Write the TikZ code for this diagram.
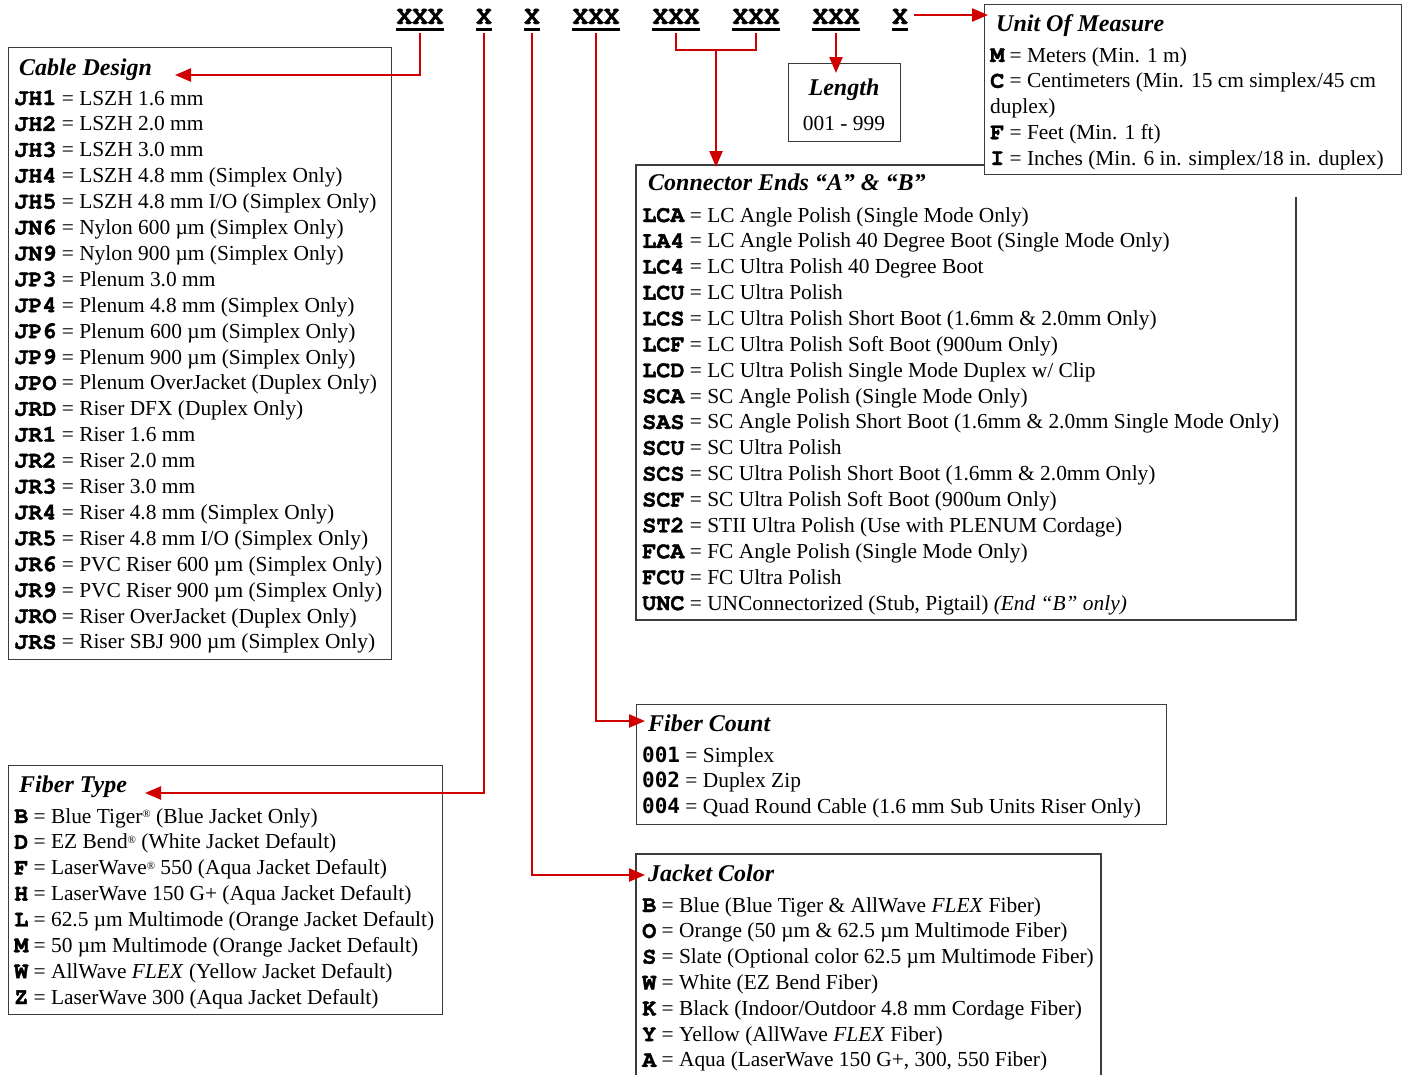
\documentclass[tikz,border=0pt]{standalone}
\usepackage{fontspec}
\setmainfont{Liberation Serif}
\newfontfamily\courb[Extension=.otf, BoldFont=texgyrecursor-bold, BoldFeatures={FakeBold=1.5}]{texgyrecursor-regular}
\newfontfamily\sansmono{DejaVu Sans Mono}
\usetikzlibrary{arrows.meta}
\definecolor{conred}{RGB}{208,0,0}
\definecolor{boxgray}{RGB}{60,60,60}
\newcommand\cd[1]{{\courb\bfseries\fontsize{23.5}{26}\selectfont #1}}
\newcommand\cdn[1]{{\sansmono\bfseries\fontsize{21}{26}\selectfont #1}}
\newcommand\rg{\raisebox{0.55ex}{\fontsize{11}{12}\selectfont ®}}
\tikzset{
  boxline/.style={draw=boxgray, line width=1.3pt},
  boxnode/.style={boxline, rectangle, inner sep=0pt, anchor=north west, fill=white},
  txt/.style={anchor=base west, inner sep=0pt, font=\fontsize{21.4}{26}\selectfont},
  head/.style={anchor=base west, inner sep=0pt, font=\fontsize{24}{28}\selectfont\bfseries\itshape},
  codeword/.style={anchor=base, inner sep=0pt, font=\courb\bfseries\fontsize{26}{30}\selectfont},
  conn/.style={draw=conred, line width=2.4pt},
  arr/.style={conn, -{Triangle[length=16pt,width=13pt]}},
  uline/.style={line width=3pt, black},
}
\begin{document}
\begin{tikzpicture}[x=1pt,y=1pt]
\useasboundingbox (0,0) rectangle (1408,-1074);

% ---------- code string ----------
\node[codeword] (c1) at (420,-24) {XXX};
\node[codeword] (c2) at (484,-24) {X};
\node[codeword] (c3) at (532,-24) {X};
\node[codeword] (c4) at (596,-24) {XXX};
\node[codeword] (c5) at (676,-24) {XXX};
\node[codeword] (c6) at (756,-24) {XXX};
\node[codeword] (c7) at (836,-24) {XXX};
\node[codeword] (c8) at (900,-24) {X};
\foreach \n in {c1,c2,c3,c4,c5,c6,c7,c8}
  \draw[uline] ([yshift=-5pt]\n.base west) -- ([yshift=-5pt]\n.base east);

% ---------- Cable Design ----------
\node[boxnode, minimum width=383pt, minimum height=612pt] (cdbox) at (8,-47) {};
\node[head] (cdh) at (19,-75) {Cable Design};
\foreach \cc/\tx [count=\i] in {
  JH1/{LSZH 1.6 mm},
  JH2/{LSZH 2.0 mm},
  JH3/{LSZH 3.0 mm},
  JH4/{LSZH 4.8 mm (Simplex Only)},
  JH5/{LSZH 4.8 mm I/O (Simplex Only)},
  JN6/{Nylon 600 µm (Simplex Only)},
  JN9/{Nylon 900 µm (Simplex Only)},
  JP3/{Plenum 3.0 mm},
  JP4/{Plenum 4.8 mm (Simplex Only)},
  JP6/{Plenum 600 µm (Simplex Only)},
  JP9/{Plenum 900 µm (Simplex Only)},
  JPO/{Plenum OverJacket (Duplex Only)},
  JRD/{Riser DFX (Duplex Only)},
  JR1/{Riser 1.6 mm},
  JR2/{Riser 2.0 mm},
  JR3/{Riser 3.0 mm},
  JR4/{Riser 4.8 mm (Simplex Only)},
  JR5/{Riser 4.8 mm I/O (Simplex Only)},
  JR6/{PVC Riser 600 µm (Simplex Only)},
  JR9/{PVC Riser 900 µm (Simplex Only)},
  JRO/{Riser OverJacket (Duplex Only)},
  JRS/{Riser SBJ 900 µm (Simplex Only)}}
  \node[txt] (cdl\i) at (14,{-105-(\i-1)*25.9}) {\cd{\cc} = \tx};

% ---------- Fiber Type ----------
\node[boxnode, minimum width=434pt, minimum height=249pt] (ftbox) at (8,-765) {};
\node[head] (fth) at (19,-792) {Fiber Type};
\foreach \cc/\tx [count=\i] in {
  B/{Blue Tiger\rg{} (Blue Jacket Only)},
  D/{EZ Bend\rg{} (White Jacket Default)},
  F/{LaserWave\rg{} 550 (Aqua Jacket Default)},
  H/{LaserWave 150 G+ (Aqua Jacket Default)},
  L/{62.5 µm Multimode (Orange Jacket Default)},
  M/{50 µm Multimode (Orange Jacket Default)},
  W/{AllWave \textit{FLEX} (Yellow Jacket Default)},
  Z/{LaserWave 300 (Aqua Jacket Default)}}
  \node[txt] (ftl\i) at (14,{-823-(\i-1)*25.86}) {\cd{\cc} = \tx};

% ---------- Connector Ends ----------
\draw[boxline] (985,-165) -- (636,-165) -- (636,-620) -- (1296,-620) -- (1296,-197);
\node[head] (ceh) at (648,-190) {Connector Ends “A” \& “B”};
\foreach \cc/\tx [count=\i] in {
  LCA/{LC Angle Polish (Single Mode Only)},
  LA4/{LC Angle Polish 40 Degree Boot (Single Mode Only)},
  LC4/{LC Ultra Polish 40 Degree Boot},
  LCU/{LC Ultra Polish},
  LCS/{LC Ultra Polish Short Boot (1.6mm \& 2.0mm Only)},
  LCF/{LC Ultra Polish Soft Boot (900um Only)},
  LCD/{LC Ultra Polish Single Mode Duplex w/ Clip},
  SCA/{SC Angle Polish (Single Mode Only)},
  SAS/{SC Angle Polish Short Boot (1.6mm \& 2.0mm Single Mode Only)},
  SCU/{SC Ultra Polish},
  SCS/{SC Ultra Polish Short Boot (1.6mm \& 2.0mm Only)},
  SCF/{SC Ultra Polish Soft Boot (900um Only)},
  ST2/{STII Ultra Polish (Use with PLENUM Cordage)},
  FCA/{FC Angle Polish (Single Mode Only)},
  FCU/{FC Ultra Polish},
  UNC/{UNConnectorized (Stub, Pigtail) \textit{(End “B” only)}}}
  \node[txt] (cel\i) at (642,{-222-(\i-1)*25.87}) {\cd{\cc} = \tx};

% ---------- Fiber Count ----------
\node[boxnode, minimum width=530pt, minimum height=120pt] (fcbox) at (636,-704) {};
\node[head] (fch) at (648,-731) {Fiber Count};
\foreach \cc/\tx [count=\i] in {
  001/{Simplex},
  002/{Duplex Zip},
  004/{Quad Round Cable (1.6 mm Sub Units Riser Only)}}
  \node[txt] (fcl\i) at (642,{-762-(\i-1)*25.9}) {\cdn{\cc} = \tx};

% ---------- Jacket Color ----------
\draw[boxline] (636,-1076) -- (636,-854) -- (1101,-854) -- (1101,-1076);
\node[head] (jch) at (648,-881) {Jacket Color};
\foreach \cc/\tx [count=\i] in {
  B/{Blue (Blue Tiger \& AllWave \textit{FLEX} Fiber)},
  O/{Orange (50 µm \& 62.5 µm Multimode Fiber)},
  S/{Slate (Optional color 62.5 µm Multimode Fiber)},
  W/{White (EZ Bend Fiber)},
  K/{Black (Indoor/Outdoor 4.8 mm Cordage Fiber)},
  Y/{Yellow (AllWave \textit{FLEX} Fiber)},
  A/{Aqua (LaserWave 150 G+, 300, 550 Fiber)}}
  \node[txt] (jcl\i) at (642,{-912-(\i-1)*25.83}) {\cd{\cc} = \tx};

% ---------- Length ----------
\node[boxnode, minimum width=112pt, minimum height=78pt] (lenbox) at (788,-63) {};
\node[head, anchor=base] (lenh) at (844,-95) {Length};
\node[txt, anchor=base] (lent) at (844,-130) {001 - 999};

% ---------- Unit Of Measure ----------
\node[boxnode, minimum width=417pt, minimum height=170pt] (umbox) at (984,-4) {};
\node[head] (umh) at (996,-31) {Unit Of Measure};
\node[txt] (uml1) at (990,-62) {\cd{M} = Meters (Min. 1 m)};
\node[txt] (uml2) at (990,-87.75) {\cd{C} = Centimeters (Min. 15 cm simplex/45 cm};
\node[txt] (uml3) at (990,-113.5) {duplex)};
\node[txt] (uml4) at (990,-139.25) {\cd{F} = Feet (Min. 1 ft)};
\node[txt] (uml5) at (990,-165) {\cd{I} = Inches (Min. 6 in. simplex/18 in. duplex)};

% ---------- connectors ----------
\coordinate (cdtip) at (175,-75);
\coordinate (fttip) at (145,-793);
\coordinate (jctip) at (645,-875);
\coordinate (fctip) at (645,-721);
\coordinate (cejoin) at (716,-50);
\coordinate (cetip) at (716,-167);
\coordinate (lentip) at (836,-73);
\coordinate (umtip) at (988,-15);
\draw[arr] ([yshift=-9pt]c1.base) |- (cdtip);
\draw[arr] ([yshift=-9pt]c2.base) |- (fttip);
\draw[arr] ([yshift=-9pt]c3.base) |- (jctip);
\draw[arr] ([yshift=-9pt]c4.base) |- (fctip);
\draw[conn] ([yshift=-9pt]c5.base) |- (cejoin) -| ([yshift=-9pt]c6.base);
\draw[arr] (cejoin) -- (cetip);
\draw[arr] ([yshift=-9pt]c7.base) -- (lentip);
\draw[arr] ([xshift=6pt,yshift=9pt]c8.base east) -- (umtip);
\end{tikzpicture}
\end{document}
